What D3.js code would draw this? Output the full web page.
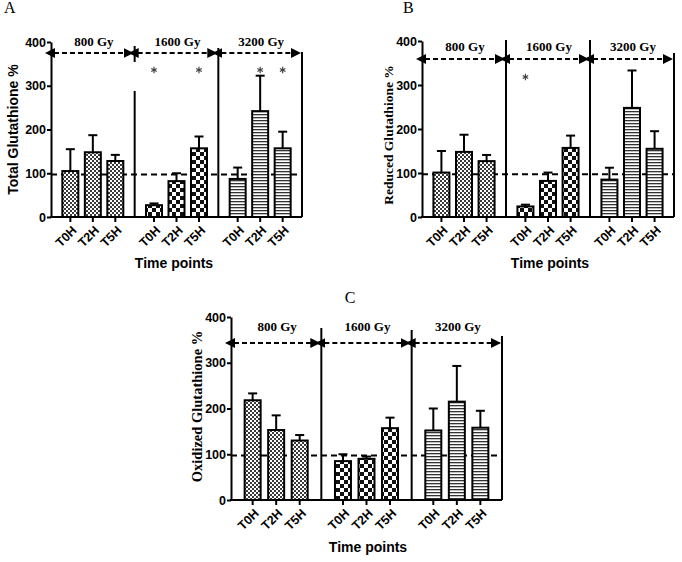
<!DOCTYPE html>
<html><head><meta charset="utf-8">
<script src="https://cdn.jsdelivr.net/npm/d3@7"></script>
<style>body{margin:0;background:#fff}svg{display:block}</style>
</head><body>
<script>
const groups = ["800 Gy", "1600 Gy", "3200 Gy"];
const times = ["T0H", "T2H", "T5H"];
const yTicks = [0, 100, 200, 300, 400];
const refLevel = 97;

// Panel A: Total glutathione (mean, upper error)
const totalMean = [[105, 148, 128], [27, 82, 157], [87, 242, 157]];
const totalErr  = [[155, 187, 142], [31, 100, 184], [113, 323, 195]];
const totalStars = [[], [0, 2], [1, 2]];
// Panel B: Reduced glutathione
const reducedMean = [[101, 148, 127], [24, 82, 157], [85, 248, 155]];
const reducedErr  = [[150, 187, 141], [28, 101, 185], [112, 333, 195]];
const reducedStars = [[], [0], []];
// Panel C: Oxidized glutathione
const oxidMean = [[218, 153, 130], [85, 90, 157], [152, 215, 158]];
const oxidErr  = [[233, 185, 142], [100, 95, 180], [200, 293, 195]];
const oxidStars = [[], [], []];

const SANS = "Liberation Sans, Arial, sans-serif";
const SERIF = "Liberation Serif, Times New Roman, serif";

const svg = d3.select("body").append("svg").attr("width", 682).attr("height", 562);
const defs = svg.append("defs");
// fine checker
const p1 = defs.append("pattern").attr("id", "pFine").attr("patternUnits", "userSpaceOnUse").attr("width", 4).attr("height", 4);
p1.append("rect").attr("width", 4).attr("height", 4).attr("fill", "#fff");
p1.append("rect").attr("width", 2).attr("height", 2).attr("fill", "#3a3a3a");
p1.append("rect").attr("x", 2).attr("y", 2).attr("width", 2).attr("height", 2).attr("fill", "#3a3a3a");
// coarse checker
const p2 = defs.append("pattern").attr("id", "pCoarse").attr("patternUnits", "userSpaceOnUse").attr("width", 8).attr("height", 8);
p2.append("rect").attr("width", 8).attr("height", 8).attr("fill", "#fff");
p2.append("rect").attr("width", 4).attr("height", 4).attr("fill", "#111");
p2.append("rect").attr("x", 4).attr("y", 4).attr("width", 4).attr("height", 4).attr("fill", "#111");
// stripes
const p3 = defs.append("pattern").attr("id", "pStripe").attr("patternUnits", "userSpaceOnUse").attr("width", 6).attr("height", 3);
p3.append("rect").attr("width", 6).attr("height", 3).attr("fill", "#fff");
p3.append("rect").attr("y", 0).attr("width", 6).attr("height", 1.3).attr("fill", "#333");
// arrow markers
["aEnd", "aStart"].forEach((id, i) => {
  defs.append("marker").attr("id", id).attr("viewBox", "0 0 10 10")
    .attr("refX", i === 0 ? 9 : 1).attr("refY", 5).attr("markerWidth", 5).attr("markerHeight", 5)
    .attr("markerUnits", "strokeWidth").attr("orient", "auto-start-reverse")
    .append("path").attr("d", "M0,0 L10,5 L0,10 Z").attr("fill", "#000");
});
const fills = ["url(#pFine)", "url(#pCoarse)", "url(#pStripe)"];
const star = d3.symbol().type(d3.symbolAsterisk).size(28);

function panel(cfg) {
  const g = svg.append("g");
  const x0 = cfg.left, x1 = cfg.right;
  const y = d3.scaleLinear().domain([0, 400]).range([cfg.bottom, cfg.top]);
  const gx = d3.scaleBand().domain(groups).range([x0, x1]);
  const tx = d3.scalePoint().domain(times).range([0, gx.bandwidth()]).padding(cfg.pad);
  const bw = 16;

  // reference dashed line
  g.append("line").attr("x1", x0).attr("x2", x1).attr("y1", y(refLevel)).attr("y2", y(refLevel))
    .attr("stroke", "#000").attr("stroke-width", 2).attr("stroke-dasharray", "6,4");

  groups.forEach((grp, gi) => {
    const gg = g.append("g");
    const data = times.map((t, ti) => ({ t, m: cfg.mean[gi][ti], e: cfg.err[gi][ti] }));
    const cx = d => gx(grp) + tx(d.t);
    gg.selectAll("line.err").data(data).join("line")
      .attr("x1", cx).attr("x2", cx).attr("y1", d => y(d.m)).attr("y2", d => y(d.e))
      .attr("stroke", "#000").attr("stroke-width", 2);
    gg.selectAll("line.cap").data(data).join("line")
      .attr("x1", d => cx(d) - 4.5).attr("x2", d => cx(d) + 4.5).attr("y1", d => y(d.e)).attr("y2", d => y(d.e))
      .attr("stroke", "#000").attr("stroke-width", 2);
    gg.selectAll("rect").data(data).join("rect")
      .attr("x", d => cx(d) - bw / 2).attr("width", bw)
      .attr("y", d => y(d.m)).attr("height", d => y(0) - y(d.m))
      .attr("fill", fills[gi]).attr("stroke", "#000").attr("stroke-width", 2);
    // x ticks
    gg.selectAll("line.tick").data(data).join("line")
      .attr("x1", cx).attr("x2", cx).attr("y1", y(0)).attr("y2", y(0) + 5)
      .attr("stroke", "#000").attr("stroke-width", 2);
    gg.selectAll("text.tl").data(data).join("text")
      .attr("transform", d => `translate(${cx(d) + 4},${y(0) + 11}) rotate(-45)`)
      .attr("text-anchor", "end").attr("dy", "0.35em")
      .attr("font-family", SANS).attr("font-weight", "bold")
      .attr("font-size", cfg.tickFs).text(d => d.t);
    // stars
    cfg.stars[gi].forEach(ti => {
      gg.append("path").attr("d", star)
        .attr("transform", `translate(${gx(grp) + tx(times[ti])},${cfg.starY})`)
        .attr("fill", "none").attr("stroke", "#444").attr("stroke-width", 1.2);
    });
    // arrows
    gg.append("line").attr("x1", gx(grp) + 3).attr("x2", gx(grp) + gx.bandwidth() - 2)
      .attr("y1", cfg.arrowY).attr("y2", cfg.arrowY)
      .attr("stroke", "#000").attr("stroke-width", 2).attr("stroke-dasharray", "5,3")
      .attr("marker-start", "url(#aStart)").attr("marker-end", "url(#aEnd)");
    gg.append("text").attr("x", gx(grp) + gx.bandwidth() / 2 + 1).attr("y", cfg.gyY)
      .attr("text-anchor", "middle").attr("font-family", SERIF)
      .attr("font-weight", "bold").attr("font-size", 13).text(grp);
    // separators
    cfg.sep[gi].forEach(s => {
      gg.append("line").attr("x1", gx(grp) + gx.bandwidth()).attr("x2", gx(grp) + gx.bandwidth())
        .attr("y1", s[0]).attr("y2", s[1] === null ? y(0) : s[1])
        .attr("stroke", "#000").attr("stroke-width", 2);
    });
  });

  // axes
  const ya = g.append("g").attr("transform", `translate(${x0},0)`)
    .call(d3.axisLeft(y).tickValues(yTicks).tickSize(4).tickPadding(1).tickSizeOuter(0).tickFormat(d3.format("d")));
  ya.select(".domain").attr("stroke-width", 2);
  ya.selectAll(".tick line").attr("stroke-width", 2);
  ya.selectAll("text").attr("font-family", SANS).attr("font-weight", "bold")
    .attr("font-size", cfg.tickFs).attr("fill", "#000");
  g.append("line").attr("x1", x0 - 1).attr("x2", x1).attr("y1", y(0)).attr("y2", y(0))
    .attr("stroke", "#000").attr("stroke-width", 2);

  // axis titles
  g.append("text").attr("transform", `translate(${cfg.ylabX},${(cfg.top + cfg.bottom) / 2 + cfg.ylabDy}) rotate(-90)`)
    .attr("text-anchor", "middle").attr("dy", "0.35em")
    .attr("font-family", cfg.ylabSerif ? SERIF : SANS)
    .attr("font-weight", "bold").attr("font-size", cfg.ylabFs).text(cfg.ylab);
  g.append("text").attr("x", cfg.xlabX).attr("y", cfg.xlabY).attr("text-anchor", "middle")
    .attr("font-family", SANS).attr("font-weight", "bold")
    .attr("font-size", 14).text("Time points");
  g.append("text").attr("x", cfg.letterX).attr("y", cfg.letterY).attr("text-anchor", cfg.letterAnchor)
    .attr("font-family", SERIF).attr("font-size", 16).text(cfg.letter);
}

panel({
  left: 51, right: 302, top: 42, bottom: 217, pad: 0.86,
  mean: totalMean, err: totalErr, stars: totalStars, starY: 70, arrowY: 53, gyY: 46,
  sep: [[[46, 62], [91, null]], [[48, null]], [[52, null]]],
  ylab: "Total Glutathione %", ylabX: 13, ylabDy: 0, ylabFs: 14, ylabSerif: false,
  xlabX: 174, xlabY: 268, tickFs: 12.5, letter: "A", letterX: 4, letterY: 13, letterAnchor: "start"
});
panel({
  left: 422, right: 674, top: 41, bottom: 217, pad: 0.86,
  mean: reducedMean, err: reducedErr, stars: reducedStars, starY: 77, arrowY: 59, gyY: 51,
  sep: [[[40, null]], [[40, null]], [[53, null]]],
  ylab: "Reduced Glutathione %", ylabX: 388, ylabDy: 6, ylabFs: 13.5, ylabSerif: true,
  xlabX: 550, xlabY: 268, tickFs: 12.5, letter: "B", letterX: 403, letterY: 13, letterAnchor: "start"
});
panel({
  left: 231, right: 502, top: 317, bottom: 500, pad: 0.92,
  mean: oxidMean, err: oxidErr, stars: oxidStars, starY: 360, arrowY: 343, gyY: 331,
  sep: [[[328, null]], [[330, null]], [[336, null]]],
  ylab: "Oxidized Glutathione %", ylabX: 197, ylabDy: -2, ylabFs: 14.5, ylabSerif: true,
  xlabX: 368, xlabY: 552, tickFs: 12.5, letter: "C", letterX: 350, letterY: 303, letterAnchor: "middle"
});
</script>
</body></html>
